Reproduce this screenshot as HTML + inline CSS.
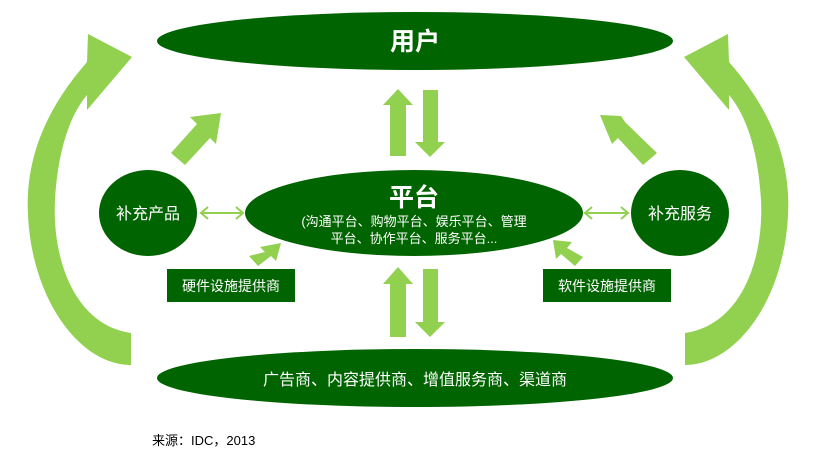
<!DOCTYPE html>
<html><head><meta charset="utf-8"><style>
html,body{margin:0;padding:0;background:#fff;width:813px;height:453px;overflow:hidden}
text{font-family:"Liberation Sans","Noto Sans CJK SC",sans-serif}
</style></head><body>
<svg width="813" height="453" viewBox="0 0 813 453" xmlns="http://www.w3.org/2000/svg">
<defs>
<path id="big" fill="#92d050" d="M131,333 C75,325 52,260 55,200 C58,150 70,115 87,95 L87,110 L132,57 L88,34 L87,62 C45,110 25,160 28,215 C32,300 80,365 131,365 Z"/>
</defs>
<use href="#big"/>
<use href="#big" transform="translate(816,0) scale(-1,1)"/>

<ellipse cx="415" cy="41" rx="258" ry="29" fill="#006400"/>
<ellipse cx="414" cy="213" rx="169" ry="43" fill="#006400"/>
<ellipse cx="415" cy="378" rx="258" ry="29" fill="#006400"/>
<ellipse cx="148" cy="213" rx="49" ry="43" fill="#006400"/>
<ellipse cx="680" cy="213" rx="49" ry="43" fill="#006400"/>
<rect x="167" y="269" width="128" height="33" fill="#006400"/>
<rect x="543" y="269" width="128" height="33" fill="#006400"/>

<g fill="#92d050">
<polygon points="390,156 406,156 406,105 413,105 398,89 383,105 390,105"/>
<polygon points="423,90 438,90 438,142 445,142 430,157 415,142 423,142"/>
<polygon points="390,337 406,337 406,284 413,284 398,267 383,284 390,284"/>
<polygon points="423,269 438,269 438,322 445,322 430,337 415,322 423,322"/>
<polygon points="171,153 185,165 210,138 216,144 221,113 190,117 197,124"/>
<polygon points="657,153 643,165 618,138 612,144 600,115 621,116 625,122"/>
<polygon points="249,256 258,266 271,256 276,261 281,243 260,247 265,252"/>
<polygon points="583,257 575,266 561,254 556,259 553,240 572,242 567,248"/>
</g>
<g stroke="#92d050" stroke-width="2" fill="none">
<line x1="202" y1="213" x2="242" y2="213"/>
<polyline points="208,207 201,213 208,219"/>
<polyline points="236,207 243,213 236,219"/>
<line x1="586" y1="213" x2="627" y2="213"/>
<polyline points="592,207 585,213 592,219"/>
<polyline points="621,207 628,213 621,219"/>
</g>

<g fill="#fff" text-anchor="middle">
<text x="415" y="50" font-size="25" font-weight="bold">用户</text>
<text x="414" y="206" font-size="25" font-weight="bold">平台</text>
<text x="414" y="226" font-size="13">(沟通平台、购物平台、娱乐平台、管理</text>
<text x="414" y="243" font-size="13">平台、协作平台、服务平台...</text>
<text x="415" y="385" font-size="16">广告商、内容提供商、增值服务商、渠道商</text>
<text x="148" y="219" font-size="16">补充产品</text>
<text x="680" y="219" font-size="16">补充服务</text>
<text x="231" y="291" font-size="14">硬件设施提供商</text>
<text x="607" y="291" font-size="14">软件设施提供商</text>
</g>
<text x="152" y="445" font-size="13" fill="#000">来源：IDC，2013</text>
</svg>
</body></html>
